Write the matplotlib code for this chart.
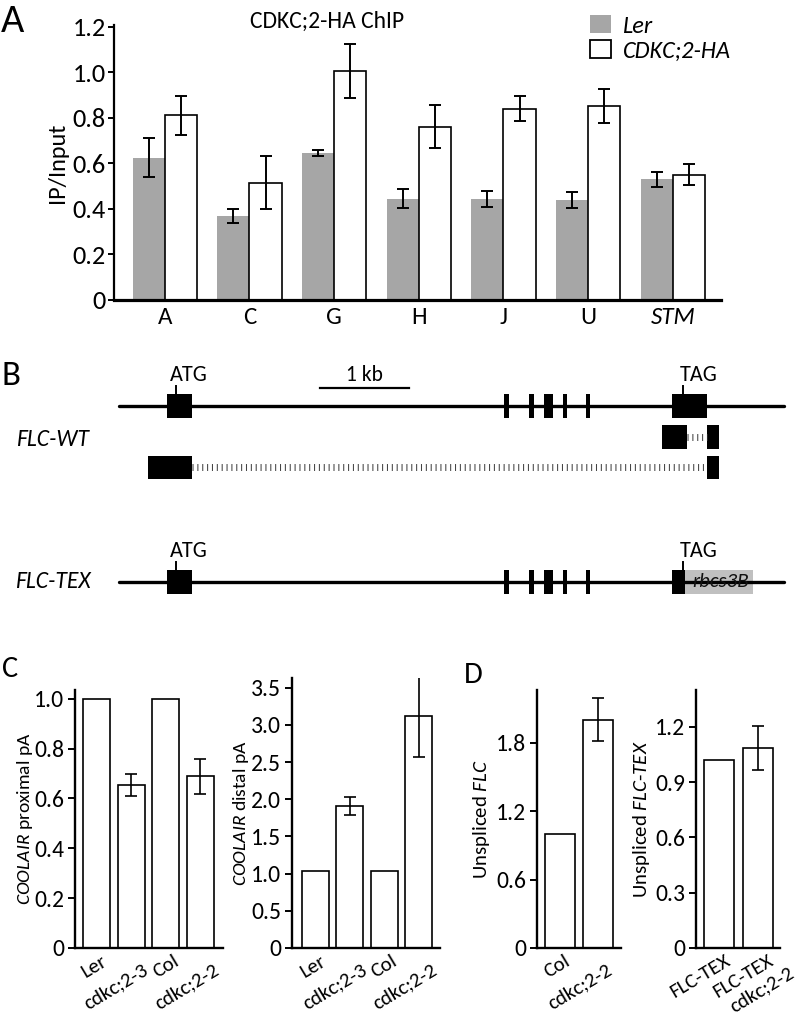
import numpy as np
import matplotlib
matplotlib.use('Agg')
import matplotlib.pyplot as plt
from matplotlib.patches import Patch
from matplotlib.ticker import FuncFormatter
from matplotlib.transforms import offset_copy

CAL = ['Carlito', 'Open Sans', 'DejaVu Sans']
plt.rcParams['font.family'] = CAL
plt.rcParams['mathtext.fontset'] = 'custom'
plt.rcParams['mathtext.rm'] = 'Carlito'
plt.rcParams['mathtext.it'] = 'Carlito:italic'

GRAY = '#a6a6a6'
W, H = 796, 1017

# ---- panel A: CDKC;2-HA ChIP
chip_sites = ['A', 'C', 'G', 'H', 'J', 'U', 'STM']
ler_ip = [0.625, 0.37, 0.645, 0.445, 0.445, 0.44, 0.53]
ler_err = [0.085, 0.03, 0.013, 0.042, 0.035, 0.035, 0.033]
ha_ip = [0.81, 0.515, 1.005, 0.76, 0.84, 0.85, 0.55]
ha_err = [0.085, 0.115, 0.12, 0.095, 0.055, 0.075, 0.045]

# ---- panel B: FLC gene model (kb from start of exon 1)
gene_span = [-0.54, 6.93]
exons = [(0.0, 0.28), (3.79, 3.84), (4.07, 4.12), (4.24, 4.34),
         (4.45, 4.49), (4.71, 4.75), (5.67, 6.07)]
atg_pos = 0.10
tag_pos = 5.80
scale_bar = [1.72, 2.72]
iso1_blocks = [(5.56, 5.84), (6.07, 6.20)]
iso2_blocks = [(-0.21, 0.28), (6.07, 6.20)]
tex_exons = exons[:-1] + [(5.67, 5.82)]
tex_terminator = (5.82, 6.58)

# ---- panel C: COOLAIR
c_lines = ['Ler', 'cdkc;2-3', 'Col', 'cdkc;2-2']
prox = [1.0, 0.655, 1.0, 0.688]
prox_err = [0, 0.045, 0, 0.07]
dist = [1.03, 1.91, 1.03, 3.12]
dist_err = [0, 0.12, 0, 0.55]

# ---- panel D: unspliced
d_lines = ['Col', 'cdkc;2-2']
unspl_flc = [1.0, 2.0]
unspl_flc_err = [0, 0.19]
d_tex = ['FLC-TEX', 'FLC-TEX\ncdkc;2-2']
unspl_tex = [1.02, 1.085]
unspl_tex_err = [0, 0.12]


def px_axes(fig, left, right, bottom, top):
    return fig.add_axes([left / W, 1 - bottom / H, (right - left) / W, (bottom - top) / H])


def fmt(v, _):
    return '0' if abs(v) < 1e-9 else f'{v:.1f}'


fig = plt.figure(figsize=(W / 100, H / 100), dpi=100)

# ================= A
ax = px_axes(fig, 114, 721, 300, 25)
x = np.arange(len(chip_sites))
bw = 0.38
ax.bar(x - bw / 2, ler_ip, bw, color=GRAY, edgecolor='none')
ax.bar(x + bw / 2, ha_ip, bw, color='white', edgecolor='black', lw=1.2)
ax.errorbar(x - bw / 2, ler_ip, yerr=ler_err, fmt='none', ecolor='black', elinewidth=1.4, capsize=4, capthick=1.4)
ax.errorbar(x + bw / 2, ha_ip, yerr=ha_err, fmt='none', ecolor='black', elinewidth=1.4, capsize=4, capthick=1.4)
ax.set_xlim(-0.60, 6.57)
ax.set_ylim(0, 1.207)
ax.set_yticks(np.arange(0, 1.21, 0.2))
ax.yaxis.set_major_formatter(FuncFormatter(fmt))
ax.set_xticks(x)
ax.set_xticklabels(chip_sites, fontsize=18)
ax.get_xticklabels()[-1].set_style('italic')
ax.tick_params(axis='x', length=0, pad=5)
ax.tick_params(axis='y', length=4, width=1.4, pad=2, labelsize=19)
for s in ['top', 'right']:
    ax.spines[s].set_visible(False)
ax.spines['left'].set_linewidth(1.6)
ax.spines['bottom'].set_linewidth(2.3)
ax.set_ylabel('IP/Input', fontsize=17.5)
ax.yaxis.set_label_coords(-0.075, 0.5)
ax.text(0.351, 1.012, 'CDKC;2-HA ChIP', transform=ax.transAxes, ha='center', va='center', fontsize=17)
handles = [Patch(facecolor=GRAY, edgecolor='none'), Patch(facecolor='white', edgecolor='black', lw=1.3)]
ax.legend(handles, ['Ler', 'CDKC;2-HA'], loc='upper left', bbox_to_anchor=(0.768, 1.07),
          frameon=False, handlelength=0.85, handleheight=0.75, handletextpad=0.5, labelspacing=0.15,
          borderaxespad=0, prop={'style': 'italic', 'size': 17.5})

# ================= B
axb = fig.add_axes([0, 1 - 630 / H, 1, 300 / H])
axb.set_xlim((0 - 167) / 89, (796 - 167) / 89)
axb.set_ylim(630, 330)
axb.axis('off')


def gene_row(y, blocks):
    axb.plot(gene_span, [y, y], color='black', lw=2.4, solid_capstyle='round')
    axb.broken_barh([(s, e - s) for s, e in blocks], (y - 12, 24), facecolors='black')


def tick_labels(y):
    top = y - 12
    for pos, lab, off in [(atg_pos, 'ATG', 0.146), (tag_pos, 'TAG', 0.17)]:
        axb.plot([pos, pos], [top, top - 8], color='black', lw=1.4)
        axb.text(pos + off, top - 19, lab, ha='center', va='center', fontsize=16)


def intron(a, b, y):
    axb.plot([a, b], [y, y], color='#444444', lw=5, ls=(0, (0.15, 0.55)), solid_capstyle='butt')


gene_row(406, exons)
tick_labels(406)
axb.plot(scale_bar, [388, 388], color='black', lw=1.6)
axb.text(np.mean(scale_bar), 375, '1 kb', ha='center', va='center', fontsize=15.5)

axb.broken_barh([(s, e - s) for s, e in iso1_blocks], (425, 24), facecolors='black')
intron(iso1_blocks[0][1], iso1_blocks[1][0], 437)
axb.broken_barh([(s, e - s) for s, e in iso2_blocks], (456, 23), facecolors='black')
intron(iso2_blocks[0][1], iso2_blocks[1][0], 467.5)

gene_row(582, tex_exons)
tick_labels(582)
axb.broken_barh([(tex_terminator[0], tex_terminator[1] - tex_terminator[0])], (570, 24),
                facecolors='#c0c0c0')
axb.text(np.mean(tex_terminator) + 0.02, 582, 'rbcs3B', ha='center', va='center', style='italic',
         fontsize=15, color='#111111')

fig.text(16 / W, 1 - 440 / H, 'FLC-WT', ha='left', va='center', style='italic', fontsize=17)
fig.text(15 / W, 1 - 582 / H, 'FLC-TEX', ha='left', va='center', style='italic', fontsize=17)


# ================= C / D
def small_bars(ax, labels, offsets, vals, errs, ylim, yticks, xlim, ylabel, lab_x, lab_size):
    xs = np.arange(len(vals))
    ax.bar(xs, vals, 0.78, color='white', edgecolor='black', lw=1.2)
    e = np.array(errs)
    m = e > 0
    ax.errorbar(xs[m], np.array(vals)[m], yerr=e[m], fmt='none', ecolor='black',
                elinewidth=1.2, capsize=4, capthick=1.2)
    ax.set_xlim(*xlim)
    ax.set_ylim(*ylim)
    ax.set_yticks(yticks)
    ax.yaxis.set_major_formatter(FuncFormatter(fmt))
    ax.set_xticks([])
    ax.tick_params(axis='y', length=5, width=1.4, pad=3, labelsize=17)
    for s in ['top', 'right']:
        ax.spines[s].set_visible(False)
    for s in ['left', 'bottom']:
        ax.spines[s].set_linewidth(1.7)
    # staggered, rotated category labels (offsets in pixels)
    for xi, lab, offs in zip(xs, labels, offsets):
        for line, (dx, dy) in zip(lab.split('\n'), offs):
            tr = offset_copy(ax.get_xaxis_transform(), fig=fig, x=dx, y=dy, units='dots')
            ax.text(xi, 0, line, transform=tr, rotation=31, rotation_mode='anchor',
                    ha='right', va='top', fontsize=15)
    ax.set_ylabel(ylabel, fontsize=lab_size)
    ax.yaxis.set_label_coords(lab_x, 0.5)


c_offs = [[(5, -4)], [(11, -13)], [(7, -4)], [(12, -13)]]
ax = px_axes(fig, 75, 223, 948, 690)
small_bars(ax, c_lines, c_offs, prox, prox_err, (0, 1.035), np.arange(0, 1.01, 0.2), (-0.62, 3.65),
           r'$\it{COOLAIR}$ proximal pA', -0.27, 14)
ax = px_axes(fig, 292, 440, 948, 678)
small_bars(ax, c_lines, c_offs, dist, dist_err, (0, 3.63), np.arange(0, 3.51, 0.5), (-0.67, 3.62),
           r'$\it{COOLAIR}$ distal pA', -0.28, 14)

ax = px_axes(fig, 537, 621, 948, 690)
small_bars(ax, d_lines, [[(4, -4)], [(8, -13)]], unspl_flc, unspl_flc_err, (0, 2.26),
           [0, 0.6, 1.2, 1.8], (-0.6, 1.6), r'Unspliced $\it{FLC}$', -0.53, 15)
ax = px_axes(fig, 696, 780, 948, 690)
small_bars(ax, d_tex, [[(6, -4)], [(10, -4), (30, -16)]], unspl_tex, unspl_tex_err, (0, 1.40),
           [0, 0.3, 0.6, 0.9, 1.2], (-0.6, 1.58), r'Unspliced $\it{FLC}$-$\it{TEX}$', -0.52, 15)

# panel letters
fig.text(1 / W, 1 - 32 / H, 'A', fontsize=29, va='baseline')
fig.text(2 / W, 1 - 385 / H, 'B', fontsize=25, va='baseline')
fig.text(2 / W, 1 - 677 / H, 'C', fontsize=22, va='baseline')
fig.text(464 / W, 1 - 683 / H, 'D', fontsize=22, va='baseline')

fig.savefig('out.png', dpi=100)
